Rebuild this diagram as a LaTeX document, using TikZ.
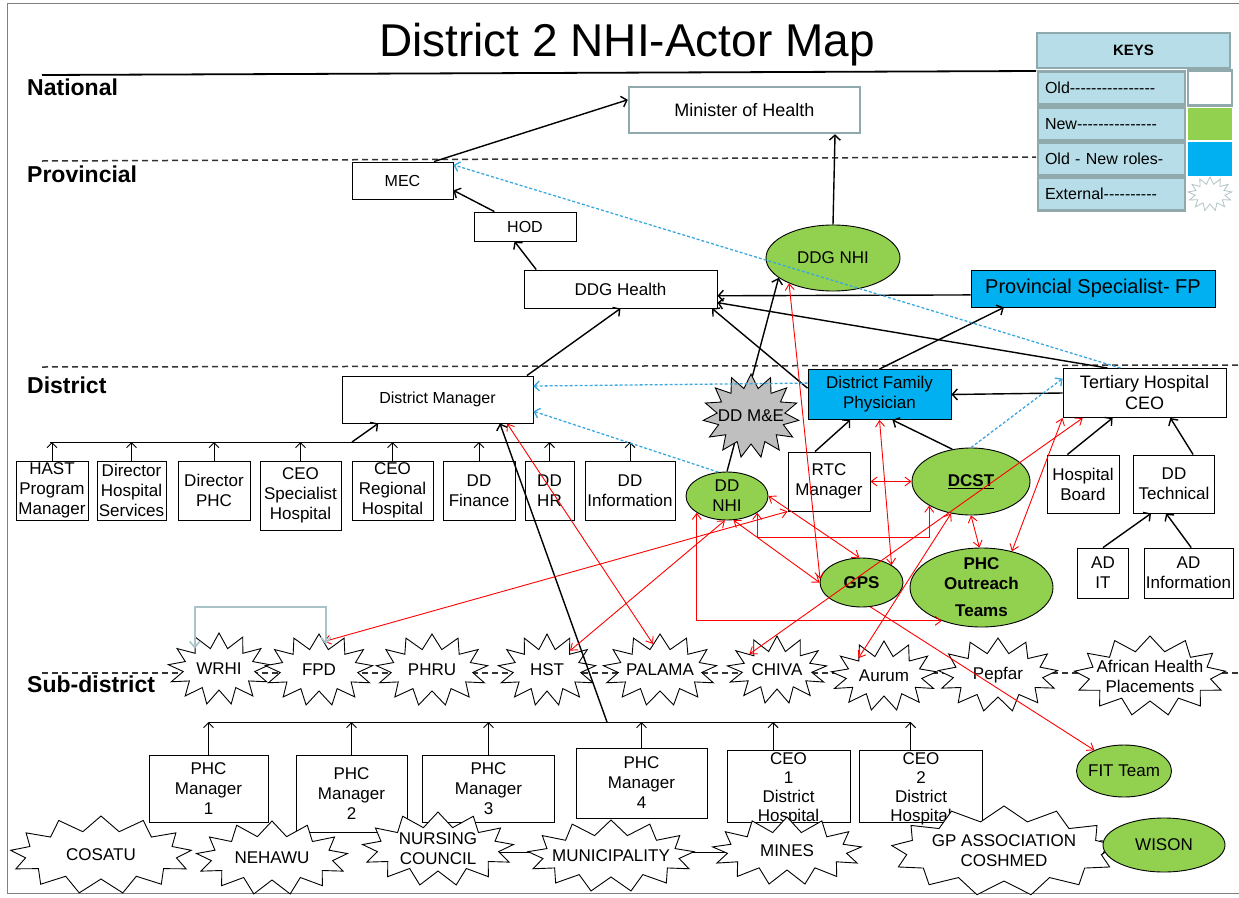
\documentclass[tikz,border=0pt]{standalone}
\usepackage{fontspec}
\setmainfont{Liberation Sans}
\usetikzlibrary{shapes.geometric,shapes.symbols,arrows.meta}
\definecolor{grn}{HTML}{92D050}
\definecolor{blu}{HTML}{00B0F0}
\definecolor{keyfill}{HTML}{B7DEE8}
\definecolor{keyline}{HTML}{8FA9AD}
\definecolor{dashblue}{HTML}{3AA8DF}
\definecolor{megray}{HTML}{BFBFBF}
\definecolor{brgray}{HTML}{A9C3C8}
\definecolor{framegray}{HTML}{808080}
\newcommand\hy{-\kern0pt }
\begin{document}
\begin{tikzpicture}[x=1pt,y=-1pt,
  every node/.style={font=\fontsize{17}{20}\selectfont},
  sz/.style 2 args={minimum width=#1pt, minimum height=#2pt},
  box/.style={draw, line width=0.9pt, fill=white, align=center, inner sep=1pt},
  oval/.style={ellipse, draw, line width=0.9pt, fill=grn, inner sep=0pt},
  burst/.style={starburst, starburst points=13, starburst point height=15pt, random starburst=0, draw, line width=0.9pt, fill=white, inner sep=0pt},
  txt/.style={label={[align=center,inner sep=0pt]center:{#1}}},
  keybox/.style={draw=keyline, line width=2.2pt, fill=keyfill, inner sep=0pt},
  keyrow/.style={keybox, minimum height=33pt, text width=133pt, inner xsep=7pt, align=left, font=\fontsize{16}{18}\selectfont},
  lvl/.style={anchor=west, inner sep=0pt, font=\fontsize{23}{26}\selectfont\bfseries},
  sep/.style={line width=1.5pt, dash pattern=on 6pt off 4pt, black!80},
  blk/.style={line width=1.4pt, -{Straight Barb[length=5pt,width=11pt]}},
  busarr/.style={line width=1pt, -{Straight Barb[length=5pt,width=10pt]}},
  rd/.style={red, line width=0.9pt, {Straight Barb[length=6pt,width=9pt]}-{Straight Barb[length=6pt,width=9pt]}},
  rdone/.style={red, line width=0.9pt, -{Straight Barb[length=6pt,width=9pt]}},
  bd/.style={dashblue, line width=1.3pt, dash pattern=on 3pt off 2pt, -{Straight Barb[length=5pt,width=10pt]}},
  gbr/.style={brgray, line width=1.6pt, {Straight Barb[length=6pt,width=10pt]}-{Straight Barb[length=6pt,width=10pt]}}
]
\useasboundingbox (0,0) rectangle (1239,897);
% frame and level separators
\draw[framegray, line width=1pt] (1239,3) -- (7,3) -- (7,893) -- (1239,893);
\draw[line width=1.8pt] (42,75) -- (1036,71);
\draw[sep] (42,161) -- (1036,157);
\draw[sep] (42,367) -- (1239,365);
\draw[sep] (42,673) -- (1239,673);
\node[font=\fontsize{46}{50}\selectfont] (title) at (627,45) {District 2 NHI-Actor Map};
\node[lvl] (lnat) at (27,87) {National};
\node[lvl] (lprov) at (27,174) {Provincial};
\node[lvl] (ldist) at (27,385) {District};
\node[lvl] (lsub) at (27,684) {Sub-district};
% keys
\node[keybox, sz={193}{35}, font=\fontsize{15}{17}\selectfont\bfseries] (keys) at (1133.5,50.5) {KEYS};
\node[keyrow] (kold) at (1111.5,88) {Old\hy\hy\hy\hy\hy\hy\hy\hy\hy\hy\hy\hy\hy\hy\hy\hy};
\node[keyrow] (knew) at (1111.5,124) {New\hy\hy\hy\hy\hy\hy\hy\hy\hy\hy\hy\hy\hy\hy\hy};
\node[keyrow] (kon) at (1111.5,159) {Old - New roles-};
\node[keyrow] (kext) at (1111.5,194) {External\hy\hy\hy\hy\hy\hy\hy\hy\hy\hy};
\node[draw=keyline, line width=2.2pt, fill=white, sz={44}{35}, inner sep=0pt] (swold) at (1210,88) {};
\node[fill=grn, sz={44}{32}, inner sep=0pt] (swnew) at (1210,124) {};
\node[fill=blu, sz={44}{34}, inner sep=0pt] (swon) at (1210,159) {};
\node[burst, draw=keyline!70, sz={44}{34}, starburst point height=7pt, line width=0.8pt] (swext) at (1210,194) {};
% national / provincial
\node[box, draw=keyline, line width=2.5pt, sz={231}{46}, font=\fontsize{18}{20}\selectfont] (minister) at (744.5,110) {Minister of Health};
\node[box, sz={101}{37}, font=\fontsize{16}{18}\selectfont] (mec) at (402.5,180.5) {MEC};
\node[box, sz={102}{29}, font=\fontsize{16}{18}\selectfont] (hod) at (525,226.5) {HOD};
\node[box, sz={193}{38}] (ddgh) at (620.5,289) {DDG Health};
\node[oval, sz={134}{66}, txt={DDG NHI}] (ddgnhi) at (833,258) {};
\node[box, fill=blu, sz={244}{37}, font=\fontsize{20}{22}\selectfont] (provspec) at (1093,288.5) {Provincial Specialist- FP};
% district
\node[box, sz={191}{47}, font=\fontsize{16}{18}\selectfont] (dm) at (437.5,399.5) {District Manager};
\node[box, fill=blu, sz={143}{50}] (dfp) at (879.5,394.5) {District Family\\Physician};
\node[box, sz={163}{49}, font=\fontsize{18}{21}\selectfont] (tert) at (1144.5,393) {Tertiary Hospital\\CEO};
\node[oval, sz={82}{48}, txt={DD\\NHI}] (ddnhi) at (727,496) {};
\node[box, sz={82}{59}] (rtc) at (829,481.5) {RTC\\Manager};
\node[oval, sz={118}{67}, txt={\underline{\bfseries DCST}}] (dcst) at (971,481.5) {};
\node[box, sz={72}{58}] (hb) at (1083,484) {Hospital\\Board};
\node[box, sz={81}{58}] (ddt) at (1174,484) {DD\\Technical};
\node[box, sz={51}{50}] (adit) at (1103,573) {AD\\IT};
\node[box, sz={89}{50}] (adinfo) at (1188.5,573) {AD\\Information};
\node[oval, sz={83}{49}, txt={\bfseries GPS}] (gps) at (861.5,582.5) {};
\node[oval, sz={143}{79}, txt={{\bfseries PHC}\\{\bfseries Outreach}\\[7pt]{\bfseries Teams}}] (phc) at (981.5,587.5) {};
\node[box, sz={72}{59}] (hast) at (52,490.5) {HAST\\Program\\Manager};
\node[box, sz={69}{59}] (dhs) at (131.5,490.5) {Director\\Hospital\\Services};
\node[box, sz={72}{59}] (dphc) at (214,490.5) {Director\\PHC};
\node[box, sz={81}{69}] (ceosh) at (300.5,495.5) {CEO\\Specialist\\Hospital};
\node[box, sz={81}{59}] (ceorh) at (392.5,490.5) {CEO\\Regional\\Hospital};
\node[box, sz={72}{59}] (ddfin) at (479,490.5) {DD\\Finance};
\node[box, sz={49}{59}] (ddhr) at (549.5,490.5) {DD\\HR};
\node[box, sz={90}{59}] (ddinfo) at (630,490.5) {DD\\Information};
% sub-district boxes
\node[box, sz={119}{67}] (phc1) at (208.5,788.5) {PHC\\Manager\\1};
\node[box, sz={111}{77}] (phc2) at (351.5,793.5) {PHC\\Manager\\2};
\node[box, sz={132}{67}] (phc3) at (488.5,789) {PHC\\Manager\\3};
\node[box, sz={131}{70}] (phc4) at (641.5,783) {PHC\\Manager\\4};
\node[box, sz={123}{72}, label={[align=center,inner sep=0pt,yshift=-3pt,font=\fontsize{17}{19}\selectfont]center:{CEO\\1\\District\\Hospital}}] (ceo1) at (788.5,786) {};
\node[box, sz={123}{72}, label={[align=center,inner sep=0pt,yshift=-3pt,font=\fontsize{17}{19}\selectfont]center:{CEO\\2\\District\\Hospital}}] (ceo2) at (921,786) {};
% external actors row
\node[burst, sz={102}{72}, txt={WRHI}] (wrhi) at (219,669) {};
\node[burst, sz={108}{72}, txt={FPD}] (fpd) at (319,670) {};
\node[burst, sz={112}{72}, txt={PHRU}] (phru) at (432,670) {};
\node[burst, sz={98}{72}, txt={HST}] (hst) at (547,670) {};
\node[burst, sz={114}{72}, txt={PALAMA}] (palama) at (660,670) {};
\node[burst, sz={100}{68}, txt={CHIVA}] (chiva) at (777,670) {};
\node[burst, sz={106}{70}, txt={Aurum}] (aurum) at (884,676) {};
\node[burst, sz={120}{74}, txt={Pepfar}] (pepfar) at (998,675) {};
\node[burst, sz={152}{80}, txt={African Health\\Placements}] (ahp) at (1150,676) {};
% bottom externals
\draw[line width=1pt] (437,852) -- (787,852);
\node[burst, sz={182}{78}, txt={COSATU}] (cosatu) at (101,855) {};
\node[burst, sz={152}{74}, txt={NEHAWU}] (nehawu) at (272,858) {};
\node[burst, sz={152}{74}, txt={NURSING\\COUNCIL}] (nursing) at (438,849) {};
\node[burst, sz={167}{72}, txt={MUNICIPALITY}] (muni) at (611,856) {};
\node[burst, sz={150}{68}, txt={MINES}] (mines) at (787,851) {};
\node[burst, sz={226}{90}, txt={GP ASSOCIATION\\COSHMED}] (gp) at (1004,851) {};
\node[oval, sz={122}{54}, txt={WISON}] (wison) at (1164,845) {};
\node[oval, sz={95}{52}, txt={FIT Team}] (fit) at (1124,771) {};
\draw[line width=0.9pt] (gp.6) -- (wison.176);
\draw[line width=0.9pt] (gp.-2) -- (wison.186);
% district bus
\coordinate (dbL) at (50,442);
\coordinate (dbR) at (630,442);
\coordinate (dbM) at (352,442);
\draw[line width=1pt] (dbL) -- (dbR);
\foreach \n in {hast,dhs,dphc,ceosh,ceorh,ddfin,ddhr,ddinfo} \draw[busarr] (\n.north) -- (\n.north |- dbL);
\draw[blk] (dbM) -- (dm.-158);
% sub-district bus
\coordinate (sbL) at (208.5,722);
\coordinate (sbR) at (911,722);
\coordinate (sb4) at (607,722);
\draw[line width=1pt] (sbL) -- (sbR);
\foreach \a in {phc1.north,phc2.north,phc3.north,phc4.north,ceo1.113,ceo2.106} \draw[busarr] (\a) -- (\a |- sbL);
% DD NHI line behind DD M&E
\draw[blk] (ddnhi.north) -- (ddgnhi.-160);
\node[burst, fill=megray, starburst points=15, starburst point height=14pt, sz={96}{84}, txt={DD M\&E}] (ddme) at (751,416) {};
% black arrows
\draw[blk] (mec.31) -- (minister.175);
\draw[blk] (hod.154) -- (mec.-11);
\draw[blk] (ddgh.167) -- (hod.-125);
\draw[blk] (ddgnhi.north) -- (minister.-15);
\draw[blk] (provspec.183.5) -- (ddgh.-4);
\draw[blk] (dm.15) -- (ddgh.south);
\draw[blk] (dfp.175) -- (ddgh.-12);
\draw[blk] (tert.146) -- (ddgh.-8);
\draw[blk] (dfp.north) -- (provspec.-168);
\draw[blk] (tert.west) -- (dfp.east);
\draw[blk] (rtc.115) -- (dfp.-139);
\draw[blk] (dcst.120) -- (dfp.-63);
\draw[blk] (hb.118) -- (tert.-142);
\draw[blk] (ddt.57) -- (tert.-44);
\draw[blk] (adit.north) -- (ddt.-128);
\draw[blk] (adinfo.84) -- (ddt.-105);
\draw[blk] (sb4) -- (dm.-21.5);
% blue dashed arrows
\draw[bd] (tert.134) -- (mec.17);
\draw[bd] (dfp.171) -- (dm.8);
\draw[bd] (ddnhi.110) -- (dm.-7);
\draw[bd] (dcst.north) -- (tert.170);
% red arrows
\coordinate (r11) at (0,537);
\draw[rd] (dm.-19) -- (palama.105);
\draw[rd] (ddgnhi.-150) -- (gps.175);
\draw[rd] (dfp.south) -- (gps.30);
\draw[rd] (rtc.east) -- (dcst.west);
\draw[rd] (dcst.south) -- (phc.93);
\draw[rd] (tert.south west) -- (phc.50);
\draw[rd] (tert.-158) -- (chiva.150);
\draw[rd] (fpd.80) -- (rtc.south west);
\draw[rd] (hst.40) -- (ddnhi.-95);
\draw[rd] (ddnhi.-151) |- (phc.-140);
\draw[rd] (ddnhi.-29) -- (ddnhi.-29 |- r11) -| (dcst.-150);
\draw[rd] (ddnhi.east) -- (gps.95);
\draw[rd] (ddnhi.-75) -- (gps.180);
\draw[rdone] (gps.-70) -- (fit.145);
\draw[rd] (dcst.-122) -- (aurum.145);
% grey bracket WRHI - FPD
\coordinate (brk) at (0,607);
\draw[gbr] (wrhi.140) -- (wrhi.140 |- brk) -| (fpd.75);
\end{tikzpicture}
\end{document}
